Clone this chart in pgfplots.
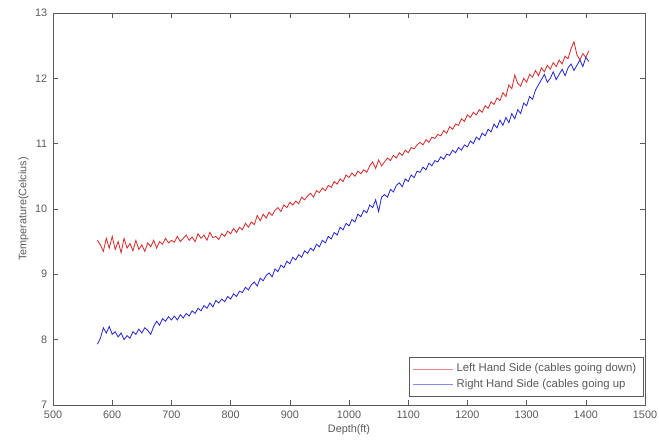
\documentclass[border=0pt]{standalone}
\usepackage{pgfplots}
\pgfplotsset{compat=1.18}
\usepackage{fontspec}
\setmainfont{Liberation Sans}
\definecolor{lhs}{RGB}{215,45,45}
\definecolor{rhs}{RGB}{40,40,215}
\definecolor{axgray}{RGB}{90,90,90}
\begin{document}
\begin{tikzpicture}
\begin{axis}[
    scale only axis,
    width=355pt, height=235pt,
    xmin=500, xmax=1500,
    ymin=7, ymax=13,
    xtick={500,600,...,1500},
    ytick={7,8,...,13},
    tick align=inside,
    major tick length=3pt,
    axis line style={axgray},
    tick style={axgray},
    every tick label/.append style={font=\fontsize{6.5}{8}\selectfont, text=axgray},
    /pgf/number format/assume math mode=true,
    /pgf/number format/1000 sep={},
    xlabel={Depth(ft)},
    ylabel={Temperature(Celcius)},
    label style={font=\fontsize{6.5}{8}\selectfont, text=axgray},
    xlabel shift=-3pt,
    ylabel shift=-3pt,
    legend style={at={(0.997,0.02)}, anchor=south east, draw=axgray,
        font=\fontsize{6.8}{8}\selectfont, text=axgray, inner sep=2pt,
        row sep=-1pt},
    legend cell align=left,
    legend image code/.code={\draw[#1, opacity=0.55] (0pt,0pt) -- (24pt,0pt);},
]
\addplot[color=lhs, line width=0.5pt] coordinates {
(575,9.52)(580,9.45)(585,9.35)(590,9.55)(595,9.40)(600,9.58)(605,9.38)(610,9.50)
(615,9.33)(620,9.55)(625,9.40)(630,9.47)(635,9.36)(640,9.52)(645,9.38)(650,9.45)
(655,9.35)(660,9.48)(665,9.42)(670,9.52)(675,9.40)(680,9.50)(685,9.46)(690,9.55)
(695,9.48)(700,9.52)(705,9.49)(710,9.58)(715,9.50)(720,9.55)(725,9.60)(730,9.52)
(735,9.57)(740,9.50)(745,9.62)(750,9.55)(755,9.60)(760,9.52)(765,9.64)(770,9.56)
(775,9.58)(780,9.53)(785,9.62)(790,9.58)(795,9.66)(800,9.62)(805,9.70)(810,9.64)
(815,9.72)(820,9.68)(825,9.78)(830,9.72)(835,9.80)(840,9.76)(845,9.90)(850,9.82)
(855,9.92)(860,9.86)(865,9.95)(870,9.90)(875,9.98)(880,10.02)(885,9.96)(890,10.06)
(895,10.02)(900,10.10)(905,10.06)(910,10.12)(915,10.08)(920,10.18)(925,10.14)(930,10.20)
(935,10.24)(940,10.18)(945,10.28)(950,10.25)(955,10.32)(960,10.28)(965,10.36)(970,10.33)
(975,10.42)(980,10.38)(985,10.46)(990,10.42)(995,10.52)(1000,10.48)(1005,10.55)(1010,10.50)
(1015,10.58)(1020,10.54)(1025,10.60)(1030,10.56)(1035,10.66)(1040,10.72)(1045,10.62)(1050,10.75)
(1055,10.66)(1060,10.72)(1065,10.78)(1070,10.74)(1075,10.82)(1080,10.78)(1085,10.86)(1090,10.82)
(1095,10.90)(1100,10.86)(1105,10.94)(1110,10.92)(1115,10.98)(1120,11.02)(1125,10.98)(1130,11.06)
(1135,11.02)(1140,11.10)(1145,11.08)(1150,11.14)(1155,11.12)(1160,11.20)(1165,11.16)(1170,11.26)
(1175,11.22)(1180,11.30)(1185,11.28)(1190,11.38)(1195,11.34)(1200,11.44)(1205,11.40)(1210,11.48)
(1215,11.44)(1220,11.52)(1225,11.48)(1230,11.58)(1235,11.54)(1240,11.64)(1245,11.60)(1250,11.70)
(1255,11.66)(1260,11.78)(1265,11.72)(1270,11.90)(1275,11.84)(1280,12.05)(1285,11.92)(1290,11.88)
(1295,12.00)(1300,11.94)(1305,12.06)(1310,12.02)(1315,12.12)(1320,12.04)(1325,12.16)(1330,12.10)
(1335,12.20)(1340,12.14)(1345,12.24)(1350,12.18)(1355,12.28)(1360,12.22)(1365,12.34)(1370,12.30)
(1375,12.45)(1380,12.56)(1385,12.36)(1390,12.28)(1395,12.38)(1400,12.32)(1405,12.42)
};
\addlegendentry{Left Hand Side (cables going down)}
\addplot[color=rhs, line width=0.5pt] coordinates {
(575,7.93)(580,8.02)(585,8.18)(590,8.10)(595,8.20)(600,8.08)(605,8.12)(610,8.04)
(615,8.10)(620,8.00)(625,8.06)(630,8.02)(635,8.12)(640,8.08)(645,8.16)(650,8.10)
(655,8.18)(660,8.14)(665,8.08)(670,8.20)(675,8.28)(680,8.22)(685,8.32)(690,8.28)
(695,8.35)(700,8.30)(705,8.36)(710,8.30)(715,8.38)(720,8.33)(725,8.40)(730,8.36)
(735,8.44)(740,8.40)(745,8.48)(750,8.44)(755,8.52)(760,8.48)(765,8.56)(770,8.50)
(775,8.60)(780,8.56)(785,8.62)(790,8.58)(795,8.66)(800,8.62)(805,8.70)(810,8.66)
(815,8.74)(820,8.72)(825,8.80)(830,8.76)(835,8.84)(840,8.88)(845,8.82)(850,8.94)
(855,8.90)(860,8.98)(865,9.02)(870,8.96)(875,9.08)(880,9.04)(885,9.14)(890,9.10)
(895,9.20)(900,9.16)(905,9.26)(910,9.22)(915,9.30)(920,9.26)(925,9.36)(930,9.32)
(935,9.40)(940,9.36)(945,9.46)(950,9.42)(955,9.52)(960,9.48)(965,9.58)(970,9.54)
(975,9.64)(980,9.60)(985,9.72)(990,9.68)(995,9.78)(1000,9.74)(1005,9.84)(1010,9.80)
(1015,9.92)(1020,9.88)(1025,9.98)(1030,9.94)(1035,10.06)(1040,10.02)(1045,10.14)(1050,9.96)
(1055,10.18)(1060,10.22)(1065,10.18)(1070,10.30)(1075,10.26)(1080,10.36)(1085,10.40)(1090,10.34)
(1095,10.46)(1100,10.42)(1105,10.52)(1110,10.48)(1115,10.58)(1120,10.56)(1125,10.64)(1130,10.60)
(1135,10.70)(1140,10.66)(1145,10.74)(1150,10.72)(1155,10.80)(1160,10.76)(1165,10.84)(1170,10.82)
(1175,10.90)(1180,10.86)(1185,10.94)(1190,10.90)(1195,10.98)(1200,10.95)(1205,11.04)(1210,11.00)
(1215,11.10)(1220,11.06)(1225,11.16)(1230,11.12)(1235,11.22)(1240,11.18)(1245,11.30)(1250,11.24)
(1255,11.36)(1260,11.28)(1265,11.40)(1270,11.32)(1275,11.46)(1280,11.38)(1285,11.52)(1290,11.46)
(1295,11.62)(1300,11.58)(1305,11.72)(1310,11.68)(1315,11.82)(1320,11.90)(1325,11.98)(1330,12.06)
(1335,11.94)(1340,12.00)(1345,12.10)(1350,11.98)(1355,12.06)(1360,12.14)(1365,12.04)(1370,12.16)
(1375,12.22)(1380,12.12)(1385,12.20)(1390,12.28)(1395,12.18)(1400,12.32)(1405,12.26)
};
\addlegendentry{Right Hand Side (cables going up}
\end{axis}
\pgfresetboundingbox
\path[use as bounding box] (current axis.south west) ++(-31.8pt,-21.6pt) rectangle ([shift={(8.4pt,7.8pt)}]current axis.north east);
\end{tikzpicture}
\end{document}
